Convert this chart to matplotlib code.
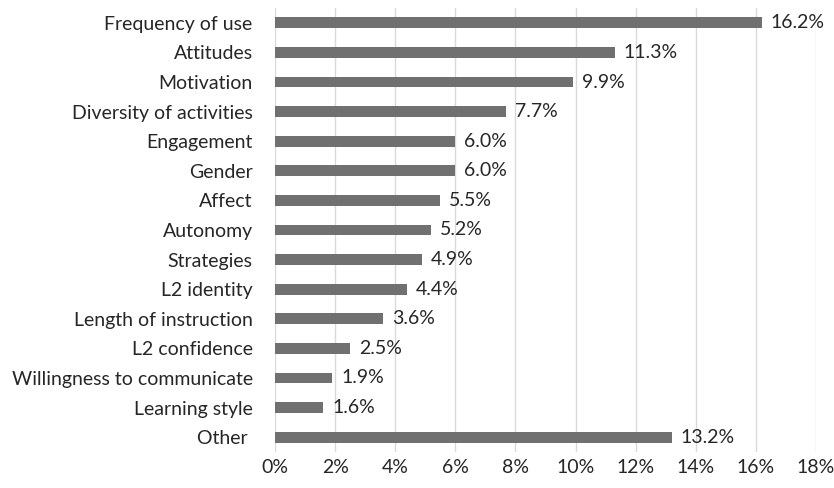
import numpy as np
import matplotlib.pyplot as plt
from matplotlib.ticker import FuncFormatter

categories = ["Frequency of use", "Attitudes", "Motivation", "Diversity of activities",
              "Engagement", "Gender", "Affect", "Autonomy", "Strategies", "L2 identity",
              "Length of instruction", "L2 confidence", "Willingness to communicate",
              "Learning style", "Other "]
values = [16.2, 11.3, 9.9, 7.7, 6.0, 6.0, 5.5, 5.2, 4.9, 4.4, 3.6, 2.5, 1.9, 1.6, 13.2]

plt.rcParams['font.family'] = ['Lato', 'DejaVu Sans']

fig = plt.figure(figsize=(8.34, 4.88), dpi=100)
ax = fig.add_axes([0.3297, 0.0738, 0.6487, 0.9098])

y = np.arange(len(categories))
ax.barh(y, values, height=0.36, color="#707070", zorder=3)
for yi, v in zip(y, values):
    ax.text(v + 0.3, yi, f"{v:.1f}%", va="center", ha="left", fontsize=14, color="#262626")

ax.set_xlim(0, 18)
ax.set_ylim(len(categories) - 0.5, -0.5)
ax.set_xticks(np.arange(0, 19, 2))
ax.xaxis.set_major_formatter(FuncFormatter(lambda x, p: f"{x:.0f}%"))
ax.set_yticks(y)
ax.set_yticklabels(categories)
ax.grid(axis="x", color="#d9d9d9", linewidth=1, zorder=0)
for s in ax.spines.values():
    s.set_visible(False)
ax.tick_params(axis="both", length=0, labelsize=14, colors="#262626")
ax.tick_params(axis="x", pad=5)
ax.tick_params(axis="y", pad=16)

fig.savefig("out.png", dpi=100)
